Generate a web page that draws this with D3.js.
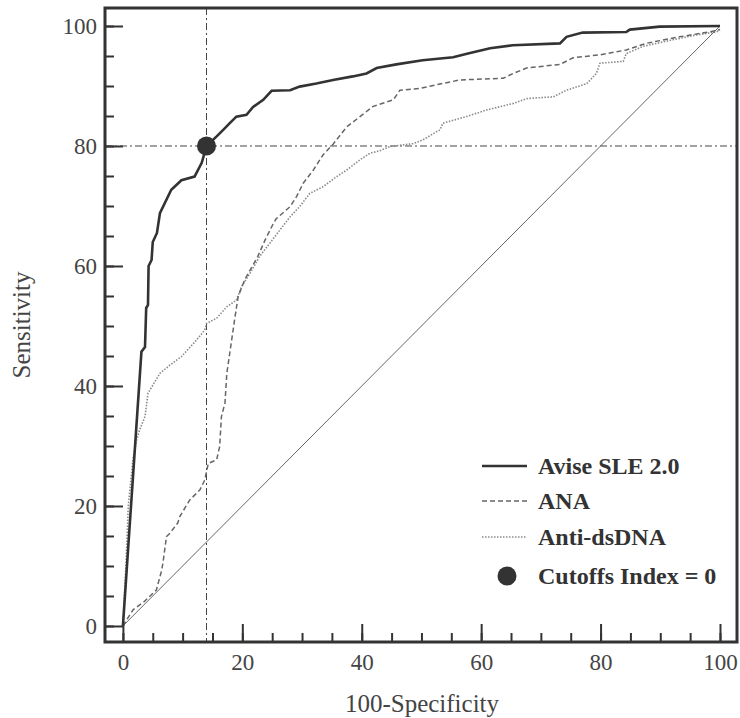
<!DOCTYPE html>
<html>
<head>
<meta charset="utf-8">
<script src="https://cdn.jsdelivr.net/npm/d3@7"></script>
<style>
  body { margin: 0; background: #fff; }
</style>
</head>
<body>
<div id="chart"></div>
<script>
// ROC curves, values (100-specificity, sensitivity)
const aviseX = [0, 3.1, 3.7, 3.9, 4.2, 4.3, 4.8, 5, 5.7, 6.2, 8.1, 9.8, 12, 13.2, 14, 15.7, 16.8, 17.9, 19, 20.7, 21.8, 23.5, 24.9, 28, 29.6, 32.4, 35.2, 38.5, 40.8, 42.5, 45.8, 50.2, 55.3, 57.8, 61.5, 65.3, 73.2, 74.3, 77, 84.3, 84.9, 89.9, 100];
const aviseY = [0, 45.7, 46.5, 53, 53.5, 60, 61, 64, 65.5, 68.8, 72.7, 74.3, 74.9, 77.2, 80, 81.6, 82.7, 83.8, 84.9, 85.2, 86.5, 87.7, 89.2, 89.3, 89.9, 90.4, 91, 91.6, 92.1, 93, 93.6, 94.3, 94.8, 95.4, 96.3, 96.8, 97.1, 98.2, 98.9, 99, 99.4, 99.9, 100];

const anaX = [0, 1.7, 3.5, 5.6, 6.5, 6.7, 7.3, 7.9, 9.2, 9.5, 11.2, 12.9, 13.7, 14.3, 15.7, 16.2, 16.5, 17.1, 17.4, 17.9, 18.7, 19.3, 20.4, 21.3, 22.6, 23.8, 25.2, 25.7, 28, 29.1, 30.2, 31.9, 33.5, 35.2, 37.5, 39.7, 41.9, 45.3, 46.4, 49.7, 52.5, 56.4, 63.7, 65.4, 67.6, 73.2, 75.4, 79.9, 84.3, 87.6, 93.2, 98.2, 100];
const anaY = [0, 2.7, 4, 6, 9.3, 10.5, 14.9, 15.5, 17.2, 18.2, 21, 22.7, 24.3, 27.1, 27.7, 29.9, 34.9, 37.2, 42.1, 45.5, 51, 54.9, 57.7, 59.3, 61.6, 64.3, 67.1, 67.9, 69.9, 71.6, 73.8, 76, 78.5, 80.3, 83.2, 84.9, 86.6, 87.7, 89.3, 89.6, 90.2, 91, 91.3, 92.1, 93, 93.6, 94.7, 95.2, 96, 97.1, 98.2, 99, 99.4];

const dsdnaX = [0, 0.5, 0.9, 1.7, 2.3, 2.8, 3.7, 4.2, 6.2, 7.9, 9.8, 12.1, 13.7, 14, 15.7, 17.4, 19, 19.9, 21.3, 22.9, 24.6, 26.3, 28, 29.6, 31.3, 33.5, 35.8, 37.5, 39.7, 41.4, 43, 44.7, 48.6, 50.2, 53.1, 53.6, 57.5, 60.9, 65.4, 67.6, 72.1, 74.3, 77.7, 79.3, 79.9, 83.8, 84.3, 87.1, 92.1, 96, 99.4, 100];
const dsdnaY = [0, 10, 20, 28, 31, 32.7, 34.9, 38.8, 42.1, 43.5, 44.9, 47.4, 49.3, 50.4, 51.3, 53.2, 54.3, 56.6, 58.8, 61.6, 63.8, 66, 68.2, 69.9, 72.1, 73.2, 74.9, 76, 77.7, 78.8, 79.2, 79.9, 80.4, 81, 82.7, 83.8, 84.9, 86, 87.1, 87.9, 88.2, 89.3, 90.4, 92.1, 93.8, 94.1, 95.4, 96.6, 97.7, 98.5, 99, 99.4];

const cutoff = [14, 80];
const majorTicks = [0, 20, 40, 60, 80, 100];
const minorTicks = d3.range(0, 101, 5);

const legendLabels = ["Avise SLE 2.0", "ANA", "Anti-dsDNA", "Cutoffs Index = 0"];

const width = 740, height = 718;
const plotLeft = 105, plotRight = 737, plotTop = 8, plotBottom = 642;
const serif = "'Liberation Serif', 'Times New Roman', serif";
const ink = "#333";

const svg = d3.select("#chart").append("svg")
    .attr("width", width)
    .attr("height", height);

const x = d3.scaleLinear().domain([-3.0, 102.85]).range([plotLeft, plotRight]);
const y = d3.scaleLinear().domain([-2.67, 103]).range([plotBottom, plotTop]);

// axes, ticks pointing inside
function styleAxis(g) {
    g.select(".domain").remove();
    g.selectAll(".tick line").attr("stroke", ink).attr("stroke-width", 2);
    g.selectAll("text")
        .style("font-family", serif)
        .style("font-size", "23px")
        .attr("fill", "#444");
}

svg.append("g")
    .attr("transform", `translate(${plotLeft},0)`)
    .call(d3.axisLeft(y).tickValues(minorTicks).tickSize(-9).tickFormat(""))
    .call(styleAxis);
svg.append("g")
    .attr("transform", `translate(${plotLeft},0)`)
    .call(d3.axisLeft(y).tickValues(majorTicks).tickSize(-18).tickPadding(8))
    .call(styleAxis);

svg.append("g")
    .attr("transform", `translate(0,${plotBottom})`)
    .call(d3.axisBottom(x).tickValues(minorTicks).tickSize(-9).tickFormat(""))
    .call(styleAxis);
svg.append("g")
    .attr("transform", `translate(0,${plotBottom})`)
    .call(d3.axisBottom(x).tickValues(majorTicks).tickSize(-18).tickPadding(12))
    .call(styleAxis);

// reference lines through the cutoff
svg.append("line")
    .attr("x1", x(cutoff[0])).attr("x2", x(cutoff[0]))
    .attr("y1", plotTop).attr("y2", plotBottom)
    .attr("stroke", "#444").attr("stroke-width", 1)
    .attr("stroke-dasharray", "7,3,2,3");
svg.append("line")
    .attr("x1", plotLeft).attr("x2", plotRight)
    .attr("y1", y(cutoff[1])).attr("y2", y(cutoff[1]))
    .attr("stroke", "#444").attr("stroke-width", 1)
    .attr("stroke-dasharray", "7,3,2,3");

// chance diagonal
svg.append("line")
    .attr("x1", x(0)).attr("y1", y(0))
    .attr("x2", x(100)).attr("y2", y(100))
    .attr("stroke", "#666").attr("stroke-width", 1);

const line = d3.line()
    .x(d => x(d[0]))
    .y(d => y(d[1]));

const series = [
    { xs: dsdnaX, ys: dsdnaY, color: "#8a8a8a", w: 1.6, dash: "1.5,1.5" },
    { xs: anaX, ys: anaY, color: "#666", w: 1.5, dash: "5,3" },
    { xs: aviseX, ys: aviseY, color: ink, w: 2.6, dash: null }
];

series.forEach(s => {
    svg.append("path")
        .datum(d3.zip(s.xs, s.ys))
        .attr("d", line)
        .attr("fill", "none")
        .attr("stroke", s.color)
        .attr("stroke-width", s.w)
        .attr("stroke-dasharray", s.dash);
});

svg.append("circle")
    .attr("cx", x(cutoff[0]))
    .attr("cy", y(cutoff[1]))
    .attr("r", 9.5)
    .attr("fill", ink);

// frame
svg.append("rect")
    .attr("x", plotLeft).attr("y", plotTop)
    .attr("width", plotRight - plotLeft).attr("height", plotBottom - plotTop)
    .attr("fill", "none")
    .attr("stroke", ink)
    .attr("stroke-width", 3);

// axis titles
svg.append("text")
    .attr("x", (plotLeft + plotRight) / 2 + 1)
    .attr("y", 712)
    .attr("text-anchor", "middle")
    .style("font-family", serif)
    .style("font-size", "25px")
    .attr("fill", "#444")
    .text("100-Specificity");

svg.append("text")
    .attr("transform", "translate(30," + ((plotTop + plotBottom) / 2) + ") rotate(-90)")
    .attr("text-anchor", "middle")
    .style("font-family", serif)
    .style("font-size", "25px")
    .attr("fill", "#444")
    .text("Sensitivity");

// legend
const legend = svg.append("g").attr("transform", "translate(482,466)");
const rowY = [0, 35, 71, 110];
const legendStyles = [
    { color: ink, w: 2.6, dash: null },
    { color: "#666", w: 1.5, dash: "5,3" },
    { color: "#8a8a8a", w: 1.6, dash: "1.5,1.5" }
];

legendStyles.forEach((s, i) => {
    legend.append("line")
        .attr("x1", 0).attr("x2", 45)
        .attr("y1", rowY[i]).attr("y2", rowY[i])
        .attr("stroke", s.color)
        .attr("stroke-width", s.w)
        .attr("stroke-dasharray", s.dash);
});
legend.append("circle")
    .attr("cx", 25).attr("cy", rowY[3])
    .attr("r", 9.5)
    .attr("fill", ink);

legend.selectAll(".lbl")
    .data(legendLabels)
    .enter().append("text")
        .attr("class", "lbl")
        .attr("x", 56)
        .attr("y", (d, i) => rowY[i] + 8)
        .style("font-family", serif)
        .style("font-size", "24px")
        .style("font-weight", "bold")
        .attr("fill", "#333")
        .text(d => d);
</script>
</body>
</html>
